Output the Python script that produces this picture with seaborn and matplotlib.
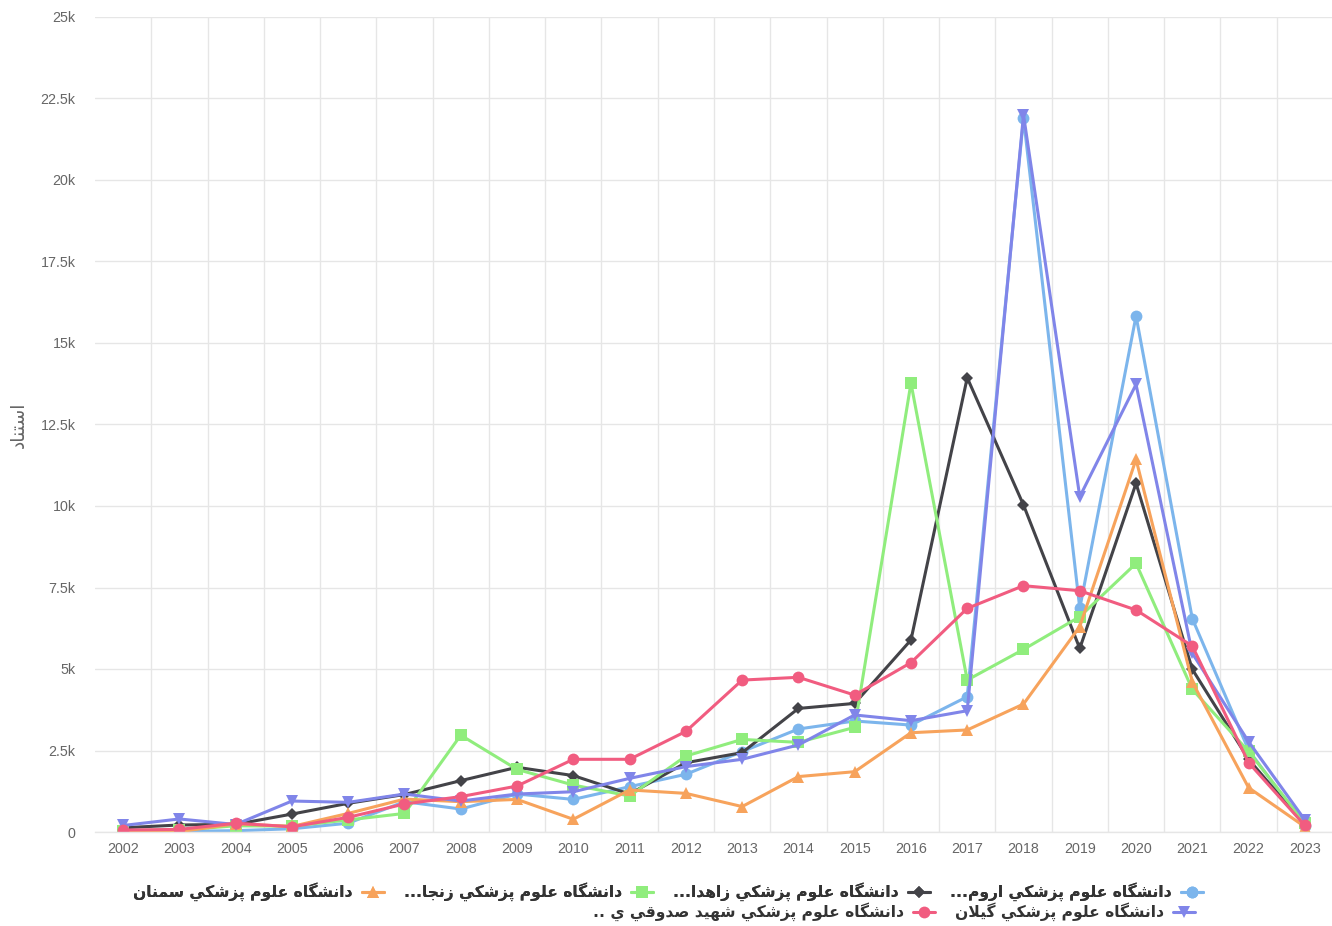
import seaborn as sns
import matplotlib.pyplot as plt
import matplotlib.ticker as mticker
from matplotlib.lines import Line2D
import pandas as pd

# presentation forms: isolated, final, initial, medial
FORMS = {
    'ا': ('\uFE8D', '\uFE8E', None, None),
    'ب': ('\uFE8F', '\uFE90', '\uFE91', '\uFE92'),
    'پ': ('\uFB56', '\uFB57', '\uFB58', '\uFB59'),
    'ت': ('\uFE95', '\uFE96', '\uFE97', '\uFE98'),
    'ج': ('\uFE9D', '\uFE9E', '\uFE9F', '\uFEA0'),
    'د': ('\uFEA9', '\uFEAA', None, None),
    'ر': ('\uFEAD', '\uFEAE', None, None),
    'ز': ('\uFEAF', '\uFEB0', None, None),
    'س': ('\uFEB1', '\uFEB2', '\uFEB3', '\uFEB4'),
    'ش': ('\uFEB5', '\uFEB6', '\uFEB7', '\uFEB8'),
    'ص': ('\uFEB9', '\uFEBA', '\uFEBB', '\uFEBC'),
    'ع': ('\uFEC9', '\uFECA', '\uFECB', '\uFECC'),
    'ق': ('\uFED5', '\uFED6', '\uFED7', '\uFED8'),
    'ك': ('\uFED9', '\uFEDA', '\uFEDB', '\uFEDC'),
    'گ': ('\uFB92', '\uFB93', '\uFB94', '\uFB95'),
    'ل': ('\uFEDD', '\uFEDE', '\uFEDF', '\uFEE0'),
    'م': ('\uFEE1', '\uFEE2', '\uFEE3', '\uFEE4'),
    'ن': ('\uFEE5', '\uFEE6', '\uFEE7', '\uFEE8'),
    'ه': ('\uFEE9', '\uFEEA', '\uFEEB', '\uFEEC'),
    'و': ('\uFEED', '\uFEEE', None, None),
    'ي': ('\uFEF1', '\uFEF2', '\uFEF3', '\uFEF4'),
}


def rtl(text):
    # simple arabic shaping + reverse, matplotlib has no bidi
    out = []
    i = 0
    n = len(text)
    while i < n:
        c = text[i]
        if c not in FORMS:
            out.append(c)
            i += 1
            continue
        prev = text[i - 1] if i > 0 else ''
        pj = prev in FORMS and FORMS[prev][2] is not None
        if c == 'ل' and i + 1 < n and text[i + 1] == 'ا':
            out.append('\uFEFC' if pj else '\uFEFB')
            i += 2
            continue
        nxt = text[i + 1] if i + 1 < n else ''
        nj = FORMS[c][2] is not None and nxt in FORMS
        f = FORMS[c]
        if pj and nj:
            out.append(f[3])
        elif pj:
            out.append(f[1])
        elif nj:
            out.append(f[2])
        else:
            out.append(f[0])
        i += 1
    return ''.join(out[::-1])


years = list(range(2002, 2024))
series = ['دانشگاه علوم پزشكي اروم...',
          'دانشگاه علوم پزشكي زاهدا...',
          'دانشگاه علوم پزشكي زنجا...',
          'دانشگاه علوم پزشكي سمنان',
          'دانشگاه علوم پزشكي گيلان',
          'دانشگاه علوم پزشكي شهيد صدوقي ي ..']
colors = ['#7cb5ec', '#434348', '#90ed7d', '#f7a35c', '#8085e9', '#f15c80']
markers = ['o', 'D', 's', '^', 'v', 'o']

urmia = [30, 20, 40, 100, 270, 930, 705, 1165, 1000, 1390, 1770, 2465,
         3160, 3405, 3280, 4150, 21900, 6860, 15830, 6545, 2515, 185]
zahedan = [130, 215, 235, 550, 880, 1150, 1575, 1985, 1730, 1165, 2125, 2435,
           3790, 3945, 5890, 13935, 10030, 5630, 10695, 4990, 2230, 215]
zanjan = [40, 60, 190, 180, 370, 570, 2970, 1920, 1440, 1105, 2330, 2840,
          2750, 3210, 13770, 4660, 5600, 6605, 8240, 4375, 2470, 270]
semnan = [20, 10, 250, 170, 570, 1010, 930, 1000, 390, 1290, 1185, 780,
          1700, 1850, 3045, 3130, 3925, 6300, 11430, 4600, 1360, 160]
guilan = [200, 400, 230, 950, 910, 1165, 950, 1165, 1235, 1645, 2005, 2230,
          2670, 3590, 3415, 3720, 22000, 10285, 13730, 5480, 2770, 370]
yazd = [60, 80, 270, 160, 450, 860, 1085, 1410, 2230, 2230, 3085, 4660,
        4745, 4200, 5195, 6860, 7555, 7400, 6810, 5705, 2130, 200]
values = [urmia, zahedan, zanjan, semnan, guilan, yazd]

rows = []
for name, vals in zip(series, values):
    for y, v in zip(years, vals):
        rows.append({'year': y, 'value': v, 'uni': name})
df = pd.DataFrame(rows)

sns.set_style('white')
plt.rcParams['font.family'] = ['Liberation Sans', 'DejaVu Sans']

fig = plt.figure(figsize=(13.32, 9.26), dpi=100)
ax = fig.add_axes([95 / 1332, 1 - 832 / 926, 1238 / 1332, 815 / 926])

sns.lineplot(data=df, x='year', y='value', hue='uni', style='uni',
             hue_order=series, style_order=series,
             palette=dict(zip(series, colors)),
             markers=dict(zip(series, markers)), dashes=False,
             linewidth=2.2, markersize=8.5, markeredgewidth=0,
             legend=False, ax=ax)
# diamond looks a bit smaller in the original
for ln in ax.lines:
    if ln.get_marker() == 'D':
        ln.set_markersize(6.5)

ax.set_xlim(2001.5, 2023.5)
ax.set_ylim(0, 25000)
ax.set_xticks(years)
ax.set_xticks([y + 0.5 for y in years[:-1]], minor=True)
ax.set_yticks(range(0, 25001, 2500))


def kfmt(v, pos):
    if v == 0:
        return '0'
    return '{:g}k'.format(v / 1000)


ax.yaxis.set_major_formatter(mticker.FuncFormatter(kfmt))
ax.grid(False)
ax.grid(True, which='minor', axis='x', color='#e6e6e6', linewidth=1)
ax.grid(True, which='major', axis='y', color='#e6e6e6', linewidth=1)
ax.set_axisbelow(True)
for s in ['top', 'right', 'left']:
    ax.spines[s].set_visible(False)
ax.spines['bottom'].set_color('#e6e6e6')
ax.spines['bottom'].set_linewidth(1)
ax.tick_params(axis='both', which='both', length=0, colors='#666666',
               labelsize=10.3)
ax.tick_params(axis='y', pad=14)
ax.tick_params(axis='x', pad=7)
ax.set_xlabel('')
ax.set_ylabel(rtl('استناد'), fontsize=13.5, color='#666666',
              family=['DejaVu Sans'])
ax.yaxis.set_label_coords(-0.054, 0.5)


def handle(i):
    return Line2D([], [], color=colors[i], marker=markers[i], linewidth=2.2,
                  markersize=8.5 if markers[i] != 'D' else 6.5,
                  markeredgewidth=0)


legprops = dict(family=['DejaVu Sans'], weight='bold', size=11.2)
row1 = [3, 2, 1, 0]
leg1 = fig.legend([handle(i) for i in row1], [rtl(series[i]) for i in row1],
                  loc='upper center', bbox_to_anchor=(0.5015, 1 - 870 / 926),
                  ncol=4, frameon=False, markerfirst=False, prop=legprops,
                  handlelength=1.4, handletextpad=0.6, columnspacing=1.3,
                  labelcolor='#333333', borderpad=0.3)
fig.canvas.draw()
bb = leg1.get_window_extent()
row2 = [5, 4]
leg2 = fig.legend([handle(i) for i in row2], [rtl(series[i]) for i in row2],
                  loc='upper right',
                  bbox_to_anchor=(bb.x1 / fig.bbox.width, 1 - 890 / 926),
                  ncol=2, frameon=False, markerfirst=False, prop=legprops,
                  handlelength=1.4, handletextpad=0.6, columnspacing=1.3,
                  labelcolor='#333333', borderpad=0.3)
fig.add_artist(leg1)

fig.savefig('out.png', dpi=100)
